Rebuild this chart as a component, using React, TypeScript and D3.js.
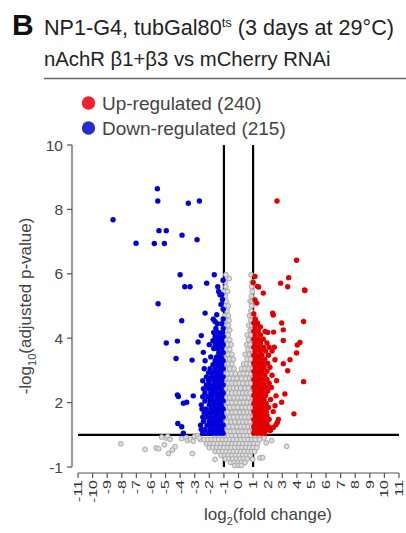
import React, { useEffect, useRef } from "react";
import * as d3 from "d3";

// tick values / labels
const xTicks = [-11, -10, -9, -8, -7, -6, -5, -4, -3, -2, -1, 0, 1, 2, 3, 4, 5, 6, 7, 8, 9, 10, 11];
const yTicks = [0, 2, 4, 6, 8, 10];
const yTickLabels = ["-1", "2", "4", "6", "8", "10"];
const legendLabels = ["Up-regulated (240)", "Down-regulated (215)"];
const fcCut = [-1, 1];
const pCut = 1;

// up-regulated genes: isolated points [log2FC, -log10 padj]
const upOutliers: [number, number][] = [
  [2.64, 8.26], [3.98, 6.42], [3.44, 5.88], [2.89, 5.71], [3.37, 5.6], [4.53, 5.5],
  [1.7, 5.4], [1.13, 5.92], [1.01, 5.73], [1.29, 5.61], [1.38, 5.59], [1.13, 5.19],
  [1.25, 5.09], [4.55, 5.48], [2.34, 4.78], [2.38, 4.72], [4.46, 4.52], [2.96, 4.47],
  [3.07, 4.26], [1.82, 4.21], [2.41, 4.19], [2.0, 4.18], [3.07, 3.93], [4.21, 3.87],
  [4.03, 3.79], [3.98, 3.54], [3.53, 3.33], [2.5, 3.33], [3.07, 3.21], [3.37, 2.99],
  [4.46, 2.65], [2.61, 2.68], [3.18, 2.27], [2.57, 2.21], [2.96, 2.01], [2.5, 1.9],
  [3.8, 1.65], [2.38, 1.72], [2.73, 1.48], [2.66, 1.38], [2.57, 1.31], [2.38, 1.23],
  [2.2, 1.15], [2.16, 1.13], [1.66, 1.13],
];

// up-regulated genes: dense band next to the cut-off, [y, x values]
const upRows: [number, number[]][] = [
  [1.05, [1.05, 1.3, 1.55, 1.8]],
  [1.15, [1.1, 1.35, 1.6, 1.85]],
  [1.25, [1.05, 1.3, 1.55, 1.8, 2.05]],
  [1.37, [1.15, 1.4, 1.65, 1.95]],
  [1.48, [1.05, 1.3, 1.55, 1.85, 2.1]],
  [1.6, [1.15, 1.4, 1.7, 1.95]],
  [1.72, [1.05, 1.3, 1.6, 1.9]],
  [1.85, [1.15, 1.45, 1.75, 2.05]],
  [1.97, [1.05, 1.3, 1.6, 1.9]],
  [2.1, [1.15, 1.45, 1.75, 2.2]],
  [2.22, [1.05, 1.3, 1.6, 1.85]],
  [2.35, [1.15, 1.45, 1.7, 2.0]],
  [2.47, [1.05, 1.3, 1.6, 1.9, 2.25]],
  [2.6, [1.15, 1.45, 1.75, 2.1]],
  [2.72, [1.05, 1.35, 1.65, 1.95]],
  [2.85, [1.15, 1.45, 1.8, 2.3]],
  [2.97, [1.05, 1.3, 1.6, 1.95]],
  [3.1, [1.15, 1.45, 1.75, 2.15]],
  [3.22, [1.05, 1.35, 1.65, 2.0]],
  [3.35, [1.15, 1.45, 1.8]],
  [3.47, [1.05, 1.3, 1.6, 2.05]],
  [3.6, [1.15, 1.5, 1.85, 2.3]],
  [3.72, [1.05, 1.35, 1.7, 2.1, 2.45]],
  [3.85, [1.15, 1.5, 1.95]],
  [3.97, [1.05, 1.35, 1.7]],
  [4.1, [1.15, 1.5]],
  [4.22, [1.05, 1.35]],
  [4.35, [1.15, 1.5]],
  [4.47, [1.05, 1.3]],
  [4.6, [1.15]],
  [4.75, [1.05]],
];

// down-regulated genes: isolated points
const downOutliers: [number, number][] = [
  [-8.6, 7.68], [-5.56, 8.64], [-5.53, 8.26], [-3.44, 8.19], [-2.68, 8.26], [-5.45, 7.34],
  [-4.95, 7.34], [-3.87, 7.2], [-7.02, 6.95], [-5.77, 6.94], [-5.08, 6.94], [-2.84, 7.06],
  [-4.0, 5.97], [-1.66, 5.97], [-3.68, 5.6], [-3.32, 5.6], [-2.18, 5.71], [-1.06, 5.8],
  [-1.42, 5.6], [-1.36, 5.45], [-1.27, 5.35], [-1.15, 5.35], [-5.51, 5.07], [-2.29, 4.78],
  [-1.49, 4.73], [-1.73, 4.59], [-1.61, 4.52], [-3.89, 4.54], [-2.55, 4.08], [-4.95, 3.85],
  [-4.19, 3.91], [-2.77, 3.88], [-2.41, 3.56], [-4.28, 3.37], [-3.18, 3.32], [-2.29, 3.3],
  [-4.19, 2.24], [-4.12, 2.19], [-3.78, 1.98], [-3.55, 2.01], [-3.1, 2.21], [-4.16, 1.35],
  [-3.89, 1.25], [-3.78, 1.05],
];

// down-regulated genes: dense band
const downRows: [number, number[]][] = [
  [1.05, [-1.05, -1.3, -1.55, -1.8, -2.1, -2.45]],
  [1.17, [-1.15, -1.4, -1.7, -1.95, -2.3, -2.55]],
  [1.3, [-1.05, -1.3, -1.55, -1.85, -2.15, -2.6]],
  [1.42, [-1.2, -1.45, -1.7, -2.0, -2.4]],
  [1.55, [-1.05, -1.35, -1.6, -1.9, -2.2, -2.45]],
  [1.68, [-1.15, -1.45, -1.75, -2.05, -2.35]],
  [1.8, [-1.05, -1.3, -1.6, -1.9, -2.25, -2.5]],
  [1.93, [-1.2, -1.45, -1.7, -2.0, -2.55]],
  [2.05, [-1.05, -1.35, -1.65, -1.95, -2.3]],
  [2.18, [-1.15, -1.45, -1.8, -2.1, -2.45]],
  [2.3, [-1.05, -1.3, -1.6, -1.9, -2.3]],
  [2.43, [-1.2, -1.5, -1.75, -2.05, -2.4]],
  [2.55, [-1.05, -1.35, -1.65, -1.95, -2.2]],
  [2.68, [-1.15, -1.45, -1.7, -2.05, -2.45]],
  [2.8, [-1.05, -1.3, -1.55, -1.85, -2.2]],
  [2.93, [-1.2, -1.45, -1.75, -2.05]],
  [3.05, [-1.05, -1.3, -1.6, -1.95, -2.35]],
  [3.18, [-1.15, -1.45, -1.75]],
  [3.3, [-1.05, -1.3, -1.6]],
  [3.42, [-1.2, -1.5, -1.9]],
  [3.55, [-1.05, -1.35]],
  [3.68, [-1.15, -1.45, -1.7]],
  [3.8, [-1.05, -1.35, -1.6, -2.0]],
  [3.92, [-1.15, -1.45, -1.75]],
  [4.05, [-1.05, -1.3, -1.6]],
  [4.18, [-1.1, -1.4, -1.7]],
  [4.3, [-1.05, -1.55]],
  [4.45, [-1.15, -1.45]],
  [4.6, [-1.05]],
  [4.9, [-1.05]],
  [5.05, [-1.2]],
  [5.2, [-1.1]],
];

// not significant: scattered points
const nsOutliers: [number, number][] = [
  [-8.07, 0.72], [-6.4, 0.55], [-5.65, 0.59], [-5.47, 0.57], [-5.08, 0.69], [-5.26, 0.93],
  [-4.97, 0.9], [-4.85, 0.95], [-4.69, 0.86], [-4.8, 0.42], [-4.53, 0.53], [-4.35, 0.63],
  [-3.16, 0.42], [-3.9, 0.88], [-3.6, 0.92], [-3.5, 0.82], [-3.3, 0.86], [-3.1, 0.8],
  [-3.0, 0.95], [-2.8, 0.97], [-2.7, 0.9], [-1.61, 0.24], [2.27, 0.82], [3.3, 0.64],
  [0.97, 0.24], [1.47, 0.28], [1.66, 0.29], [1.9, 0.75], [1.75, 0.9],
];

// not significant: the central cloud
const nsRows: [number, number[]][] = [
  [5.97, [-0.86, 0.86]],
  [5.85, [-0.63]],
  [5.75, [-0.9, 0.93]],
  [5.6, [-0.86, 0.9]],
  [5.45, [-0.99, -0.75, 0.95]],
  [5.3, [-0.9, 0.88]],
  [5.15, [-0.85, 0.8, 0.95]],
  [5.0, [-0.9, -0.7, 0.9]],
  [4.85, [-0.8, 0.85]],
  [4.7, [-0.95, -0.7, 0.75, 0.95]],
  [4.55, [-0.85, -0.65, 0.85]],
  [4.4, [-0.9, -0.7, 0.7, 0.9]],
  [4.25, [-0.8, -0.6, 0.8, 0.95]],
  [4.1, [-0.95, -0.7, 0.6, 0.85]],
  [3.95, [-0.85, -0.6, 0.7, 0.95]],
  [3.8, [-0.95, -0.75, -0.5, 0.55, 0.8]],
  [3.65, [-0.85, -0.6, 0.65, 0.9]],
  [3.5, [-0.95, -0.7, -0.45, 0.45, 0.75, 0.95]],
  [3.35, [-0.85, -0.6, -0.35, 0.6, 0.85]],
  [3.2, [-0.95, -0.7, -0.45, 0.35, 0.55, 0.8]],
  [3.05, [-0.85, -0.6, -0.3, 0.2, 0.45, 0.7, 0.95]],
  [2.9, [-0.95, -0.75, -0.5, -0.2, 0.1, 0.35, 0.6, 0.85]],
  [2.75, [-0.85, -0.6, -0.35, -0.1, 0.2, 0.5, 0.75, 0.95]],
  [2.6, [-0.95, -0.7, -0.45, -0.2, 0.05, 0.3, 0.6, 0.85]],
  [2.45, [-0.85, -0.6, -0.35, -0.1, 0.15, 0.45, 0.7, 0.95]],
  [2.3, [-0.95, -0.7, -0.45, -0.2, 0.05, 0.3, 0.55, 0.8]],
  [2.15, [-0.85, -0.6, -0.3, -0.05, 0.2, 0.45, 0.7, 0.95]],
  [2.0, [-0.95, -0.7, -0.45, -0.15, 0.1, 0.35, 0.6, 0.85]],
  [1.85, [-0.85, -0.6, -0.3, -0.05, 0.25, 0.5, 0.75, 1.0]],
  [1.7, [-1.0, -0.75, -0.45, -0.2, 0.1, 0.35, 0.6, 0.85]],
  [1.55, [-0.9, -0.6, -0.35, -0.05, 0.2, 0.45, 0.7, 0.95]],
  [1.4, [-1.05, -0.8, -0.5, -0.25, 0.05, 0.3, 0.55, 0.8, 1.05]],
  [1.25, [-1.2, -0.95, -0.65, -0.4, -0.1, 0.15, 0.4, 0.65, 0.9, 1.15]],
  [1.1, [-1.35, -1.1, -0.8, -0.55, -0.3, 0, 0.25, 0.5, 0.75, 1.0, 1.3]],
  [0.97, [-1.6, -1.3, -1.0, -0.7, -0.45, -0.2, 0.1, 0.35, 0.6, 0.85, 1.1, 1.4, 1.7]],
  [0.85, [-2.6, -2.35, -2.1, -1.85, -1.6, -1.35, -1.1, -0.85, -0.6, -0.35, -0.1, 0.15, 0.4, 0.65, 0.9, 1.15, 1.45]],
  [0.72, [-2.2, -1.95, -1.7, -1.45, -1.2, -0.95, -0.7, -0.45, -0.2, 0.05, 0.3, 0.55, 0.8, 1.05, 1.3]],
  [0.6, [-2.0, -1.75, -1.5, -1.25, -1.0, -0.75, -0.5, -0.25, 0, 0.25, 0.5, 0.75, 1.0, 1.25]],
  [0.48, [-1.6, -1.35, -1.1, -0.85, -0.6, -0.35, -0.1, 0.15, 0.4, 0.65, 0.9, 1.1]],
  [0.36, [-1.2, -0.95, -0.7, -0.45, -0.2, 0.05, 0.3, 0.55, 0.8]],
  [0.25, [-0.9, -0.65, -0.4, -0.15, 0.1, 0.35, 0.6]],
  [0.14, [-0.55, -0.3, -0.05, 0.2, 0.45]],
  [0.05, [-0.25, 0, 0.2]],
];

const fromRows = (rows: [number, number[]][]) =>
  rows.flatMap(([y, xs]) => xs.map((x) => [x, y] as [number, number]));

export default function App() {
  const ref = useRef<SVGSVGElement>(null);

  useEffect(() => {
    const svg = d3.select(ref.current);
    svg.selectAll("*").remove();
    const font = "Arial, 'Liberation Sans', sans-serif";
    const ink = "#444";

    const x = d3.scaleLinear().domain([-11, 11]).range([78, 399]);
    const y = d3.scaleLinear().domain([0, 10]).range([467, 145]);

    // title block
    svg.append("text").attr("x", 12).attr("y", 35).attr("font-family", font)
      .attr("font-size", 30).attr("font-weight", "bold").attr("fill", "#111").text("B");
    const t1 = svg.append("text").attr("x", 44).attr("y", 35).attr("font-family", font)
      .attr("font-size", 21.6).attr("fill", "#222");
    t1.append("tspan").text("NP1-G4, tubGal80");
    t1.append("tspan").attr("font-size", 13).attr("dy", -8).text("ts");
    t1.append("tspan").attr("dy", 8).text(" (3 days at 29°C)");
    svg.append("text").attr("x", 44).attr("y", 66).attr("font-family", font)
      .attr("font-size", 20.3).attr("fill", "#222").text("nAchR β1+β3 vs mCherry RNAi");
    svg.append("line").attr("x1", 44).attr("x2", 406).attr("y1", 78.5).attr("y2", 78.5)
      .attr("stroke", "#666").attr("stroke-width", 1.5);

    // legend
    const legendColors = ["#ee2230", "#2b2bcc"];
    legendLabels.forEach((lab, i) => {
      svg.append("circle").attr("cx", 88.5).attr("cy", 103 + i * 25).attr("r", 6.7)
        .attr("fill", legendColors[i]);
      svg.append("text").attr("x", 102).attr("y", 109.5 + i * 25).attr("font-family", font)
        .attr("font-size", 19).attr("fill", ink).text(lab);
    });

    // y axis
    const ya = svg.append("g").attr("stroke", "#555").attr("stroke-width", 1.2);
    ya.append("line").attr("x1", 72).attr("x2", 72).attr("y1", y(0)).attr("y2", y(10));
    yTicks.forEach((v, i) => {
      ya.append("line").attr("x1", 67).attr("x2", 72).attr("y1", y(v)).attr("y2", y(v));
      svg.append("text").attr("x", 63).attr("y", y(v)).attr("dy", "0.36em")
        .attr("text-anchor", "end").attr("font-family", font).attr("font-size", 15.5)
        .attr("fill", ink).text(yTickLabels[i]);
    });
    const yt = svg.append("text").attr("transform", "translate(31,306) rotate(-90)")
      .attr("text-anchor", "middle").attr("font-family", font).attr("font-size", 17).attr("fill", ink);
    yt.append("tspan").text("-log");
    yt.append("tspan").attr("font-size", 11).attr("dy", 5).text("10");
    yt.append("tspan").attr("dy", -5).text("(adjusted p-value)");

    // x axis
    const xa = svg.append("g").attr("stroke", "#555").attr("stroke-width", 1.2);
    xa.append("line").attr("x1", x(-11)).attr("x2", x(11)).attr("y1", 473).attr("y2", 473);
    xTicks.forEach((v) => {
      xa.append("line").attr("x1", x(v)).attr("x2", x(v)).attr("y1", 473).attr("y2", 478);
      svg.append("text")
        .attr("transform", `translate(${x(v)},480) rotate(-90) scale(1,0.68)`)
        .attr("dy", "0.36em").attr("text-anchor", "end").attr("font-family", font)
        .attr("font-size", 16).attr("fill", "#333").text(String(v));
    });
    const xt = svg.append("text").attr("x", 268).attr("y", 520).attr("text-anchor", "middle")
      .attr("font-family", font).attr("font-size", 17).attr("fill", ink);
    xt.append("tspan").text("log");
    xt.append("tspan").attr("font-size", 11).attr("dy", 5).text("2");
    xt.append("tspan").attr("dy", -5).text("(fold change)");

    // cut-off lines
    svg.append("line").attr("x1", x(-11)).attr("x2", x(11)).attr("y1", y(pCut)).attr("y2", y(pCut))
      .attr("stroke", "#000").attr("stroke-width", 2.2);
    fcCut.forEach((c) => {
      svg.append("line").attr("x1", x(c)).attr("x2", x(c)).attr("y1", y(0)).attr("y2", y(10))
        .attr("stroke", "#000").attr("stroke-width", 2.2);
    });

    // points
    const ns = [...fromRows(nsRows), ...nsOutliers];
    svg.append("g").selectAll("circle").data(ns).enter().append("circle")
      .attr("cx", (d) => x(d[0])).attr("cy", (d) => y(d[1])).attr("r", 2.4)
      .attr("fill", "#dcdcdc").attr("stroke", "#a8a8a8").attr("stroke-width", 1);

    const down = [...fromRows(downRows), ...downOutliers];
    svg.append("g").selectAll("circle").data(down).enter().append("circle")
      .attr("cx", (d) => x(d[0])).attr("cy", (d) => y(d[1])).attr("r", 2.7)
      .attr("fill", "#0000dd");

    const up = [...fromRows(upRows), ...upOutliers];
    svg.append("g").selectAll("circle").data(up).enter().append("circle")
      .attr("cx", (d) => x(d[0])).attr("cy", (d) => y(d[1])).attr("r", 2.7)
      .attr("fill", "#e00000");
  }, []);

  return (
    <svg ref={ref} width={406} height={533}
      style={{ position: "absolute", left: 0, top: 0, background: "#fff" }} />
  );
}
